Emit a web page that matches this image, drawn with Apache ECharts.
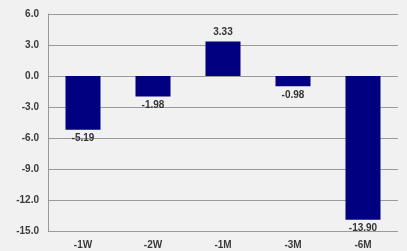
<!DOCTYPE html>
<html>
<head>
<meta charset="utf-8">
<script src="https://cdn.jsdelivr.net/npm/echarts@6/dist/echarts.min.js"></script>
<style>
  html, body { margin: 0; padding: 0; background: #f1f1f1; }
  #chart { width: 407px; height: 251px; }
</style>
</head>
<body>
<div id="chart"></div>
<script>
// periods and returns
const periods = ["-1W", "-2W", "-1M", "-3M", "-6M"];
const returns = [-5.19, -1.98, 3.33, -0.98, -13.90];

let myChart = echarts.init(document.getElementById("chart"));

myChart.setOption({
  backgroundColor: "#f1f1f1",
  animation: false,
  grid: {
    left: 48,
    right: 9,
    top: 14,
    bottom: 20
  },
  xAxis: {
    type: "category",
    data: periods,
    axisLine: { show: false },
    axisTick: { show: false },
    axisLabel: {
      color: "#3a3a3a",
      fontFamily: "Liberation Sans, Arial",
      fontWeight: "bold",
      fontSize: 10,
      margin: 9
    }
  },
  yAxis: {
    type: "value",
    min: -15,
    max: 6,
    interval: 3,
    axisLine: { show: true, lineStyle: { color: "#999", width: 1 } },
    axisTick: { show: false },
    splitLine: { lineStyle: { color: "#9a9a9a", width: 1 } },
    axisLabel: {
      color: "#3a3a3a",
      fontFamily: "Liberation Sans, Arial",
      fontWeight: "bold",
      fontSize: 10,
      margin: 9,
      formatter: (v) => v.toFixed(1)
    }
  },
  series: [
    {
      type: "bar",
      data: returns.map((v) => ({
        value: v,
        label: { position: v >= 0 ? "top" : "bottom" }
      })),
      barWidth: "50%",
      itemStyle: { color: "#000080" },
      label: {
        show: true,
        color: "#333",
        fontFamily: "Liberation Sans, Arial",
        fontWeight: "bold",
        fontSize: 10,
        distance: 4,
        formatter: (p) => p.value.toFixed(2)
      }
    }
  ]
});
</script>
</body>
</html>
